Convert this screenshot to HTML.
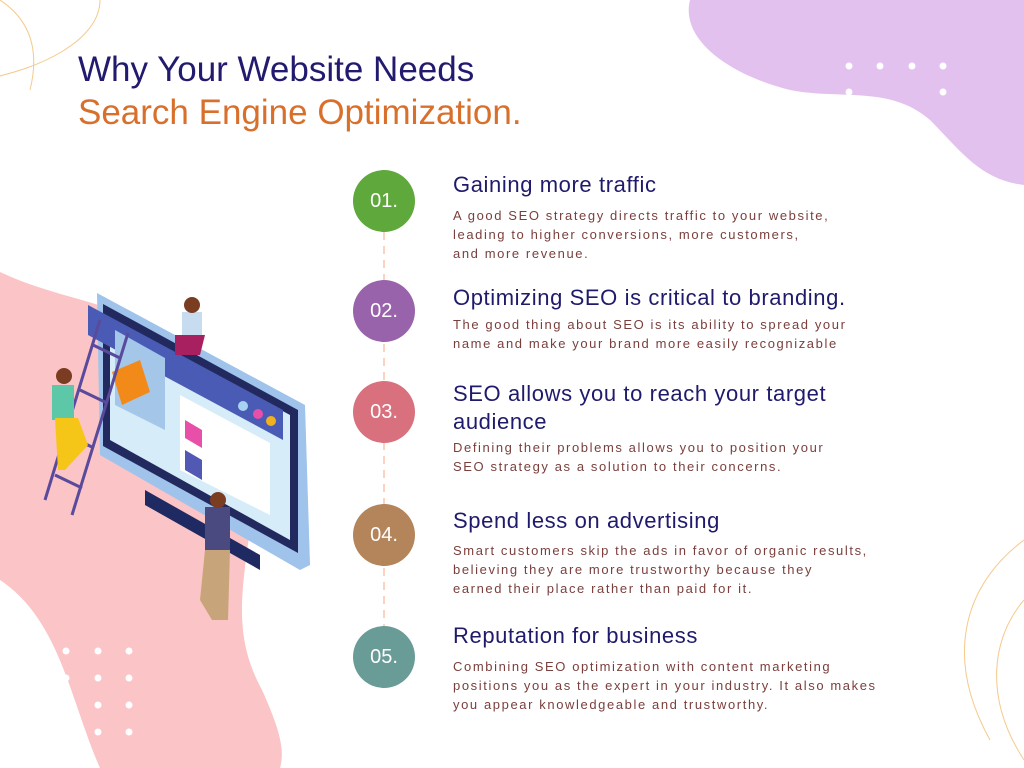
<!DOCTYPE html>
<html><head><meta charset="utf-8"><style>
body{margin:0;width:1024px;height:768px;overflow:hidden;background:#fff;position:relative;font-family:"Liberation Sans",sans-serif}
.t{position:absolute;left:78px;font-size:35px;font-weight:500;letter-spacing:0px}
.c{position:absolute;left:353px;width:62px;height:62px;border-radius:50%;color:#fff;font-size:20px;line-height:62px;text-align:center}
.h{position:absolute;left:453px;color:#1f1a6b;font-size:22px;letter-spacing:0.6px;white-space:nowrap;font-weight:500}
.b{position:absolute;left:453px;color:#7a3f3c;font-size:13px;line-height:19px;letter-spacing:1.6px;white-space:nowrap}
</style></head><body>
<svg width="1024" height="768" style="position:absolute;left:0;top:0">
<path d="M690,0 L1024,0 L1024,185 C980,180 960,150 930,120 C890,85 840,100 790,90 C730,75 680,40 690,0Z" fill="#e3c1ef"/>
<path d="M0,272 C60,300 110,300 150,330 L250,530 C240,600 235,640 262,690 C280,730 285,750 280,768 L100,768 C70,700 60,620 0,580Z" fill="#fbc4c6"/>
<path d="M-20,80 C40,70 100,40 100,0" fill="none" stroke="#f5c98a" stroke-width="1"/>
<path d="M0,0 C30,20 40,50 30,90" fill="none" stroke="#f5c98a" stroke-width="1"/>
<path d="M1024,540 C970,580 940,650 990,740" fill="none" stroke="#f5c98a" stroke-width="1"/>
<path d="M1024,600 C990,640 985,700 1024,760" fill="none" stroke="#f5c98a" stroke-width="1"/>
<g fill="#fff">
<circle cx="849" cy="66" r="3.5"/><circle cx="880" cy="66" r="3.5"/><circle cx="912" cy="66" r="3.5"/><circle cx="943" cy="66" r="3.5"/>
<circle cx="849" cy="92" r="3.5"/><circle cx="943" cy="92" r="3.5"/>
<circle cx="66" cy="651" r="3.5"/><circle cx="98" cy="651" r="3.5"/><circle cx="129" cy="651" r="3.5"/>
<circle cx="66" cy="678" r="3.5"/><circle cx="98" cy="678" r="3.5"/><circle cx="129" cy="678" r="3.5"/>
<circle cx="98" cy="705" r="3.5"/><circle cx="129" cy="705" r="3.5"/>
<circle cx="98" cy="732" r="3.5"/><circle cx="129" cy="732" r="3.5"/>
</g>
<line x1="384" y1="232" x2="384" y2="640" stroke="#fcd3c0" stroke-width="2" stroke-dasharray="8,6"/>
<polygon points="145,490 260,555 260,570 145,505" fill="#1f2a63"/>
<polygon points="97,293 305,405 310,565 300,570 100,455" fill="#9fc3ea"/>
<polygon points="103,304 298,410 298,553 103,446" fill="#22295e"/>
<polygon points="110,318 290,415 290,540 110,440" fill="#d6ecf8"/>
<polygon points="88,305 283,410 283,440 88,335" fill="#4a5bb5"/>
<circle cx="243" cy="406" r="5" fill="#a8d3f0"/><circle cx="258" cy="414" r="5" fill="#e84fa8"/><circle cx="271" cy="421" r="5" fill="#f0b020"/>
<polygon points="180,395 270,443 270,515 180,470" fill="#fff"/>
<polygon points="185,420 202,430 202,448 185,438" fill="#e84fa8"/>
<polygon points="185,450 202,460 202,480 185,470" fill="#5159b5"/>
<polygon points="115,330 165,358 165,430 115,405" fill="#a4c6e8"/>
<polygon points="112,372 140,360 150,392 122,405" fill="#f28a1a"/>
<g stroke="#5a4a9c" stroke-width="3"><line x1="100" y1="320" x2="45" y2="500"/><line x1="128" y1="333" x2="72" y2="515"/>
<line x1="93" y1="345" x2="120" y2="358"/><line x1="80" y1="390" x2="107" y2="403"/><line x1="67" y1="435" x2="94" y2="448"/><line x1="55" y1="475" x2="82" y2="488"/></g>
<rect x="52" y="385" width="22" height="35" fill="#5cc8a8"/><circle cx="64" cy="376" r="8" fill="#7a3d22"/>
<polygon points="55,418 78,418 88,445 65,470 58,470" fill="#f5c518"/>
<rect x="182" y="312" width="20" height="25" fill="#c8dcf0"/><circle cx="192" cy="305" r="8" fill="#7a3d22"/>
<polygon points="175,335 205,335 200,355 175,355" fill="#a82060"/>
<rect x="205" y="507" width="25" height="45" fill="#4a4a80"/><circle cx="218" cy="500" r="8" fill="#7a3d22"/>
<polygon points="205,550 230,550 228,620 212,620 200,600" fill="#c8a47a"/>
</svg>
<div class="t" style="top:50px;color:#221a6e">Why Your Website Needs</div>
<div class="t" style="top:93px;color:#d8702c">Search Engine Optimization.</div>
<div class="c" style="top:170px;background:#5ea83c">01.</div>
<div class="c" style="top:280px;background:#9963ab">02.</div>
<div class="c" style="top:381px;background:#d8707d">03.</div>
<div class="c" style="top:504px;background:#b4855a">04.</div>
<div class="c" style="top:626px;background:#6a9c97">05.</div>
<div class="h" style="top:172px">Gaining more traffic</div>
<div class="b" style="top:206px">A good SEO strategy directs traffic to your website,<br>leading to higher conversions, more customers,<br>and more revenue.</div>
<div class="h" style="top:285px">Optimizing SEO is critical to branding.</div>
<div class="b" style="top:315px">The good thing about SEO is its ability to spread your<br>name and make your brand more easily recognizable</div>
<div class="h" style="top:380px;line-height:28px">SEO allows you to reach your target<br>audience</div>
<div class="b" style="top:438px">Defining their problems allows you to position your<br>SEO strategy as a solution to their concerns.</div>
<div class="h" style="top:508px">Spend less on advertising</div>
<div class="b" style="top:541px">Smart customers skip the ads in favor of organic results,<br>believing they are more trustworthy because they<br>earned their place rather than paid for it.</div>
<div class="h" style="top:623px">Reputation for business</div>
<div class="b" style="top:657px">Combining SEO optimization with content marketing<br>positions you as the expert in your industry. It also makes<br>you appear knowledgeable and trustworthy.</div>
</body></html>
